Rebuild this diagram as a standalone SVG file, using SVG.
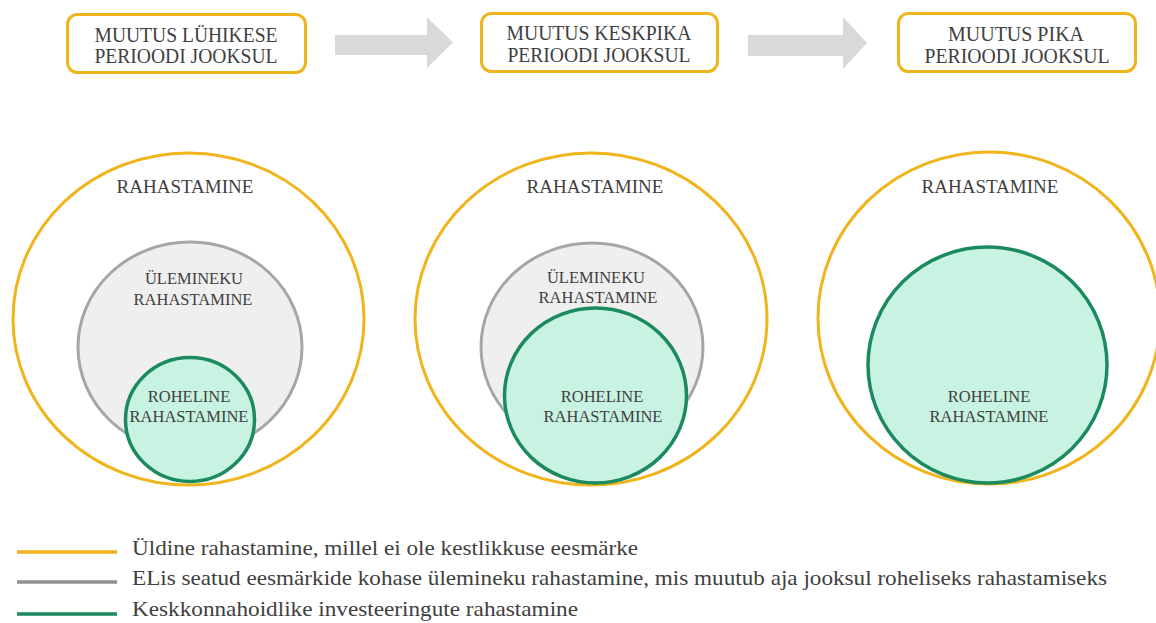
<svg xmlns="http://www.w3.org/2000/svg" width="1156" height="623" viewBox="0 0 1156 623">
<style>
text{font-family:'Liberation Serif','Times New Roman','DejaVu Serif','Noto Serif',Times,serif}
.t{fill:#404040;text-anchor:middle}
.box{fill:#fff;stroke:#F0B41C;stroke-width:3}
.arr{fill:#D9D9D9}
.outer{fill:#fff;stroke:#F0B41C;stroke-width:3}
.gray{fill:#EFEFEF;stroke:#A6A6A6;stroke-width:3}
.green{fill:#C8F3E2;stroke:#1B8A5E;stroke-width:3.5}
.lg{fill:#404040;font-size:22px}
</style>
<rect width="1156" height="623" fill="#fff"/>
<g id="box-short">
<rect class="box" x="67.5" y="14.5" width="238" height="58" rx="10"/>
<text class="t" font-family="Liberation Serif, serif" font-size="20" x="186" y="42" textLength="183" lengthAdjust="spacingAndGlyphs">MUUTUS LÜHIKESE</text>
<text class="t" font-family="Liberation Serif, serif" font-size="20" x="186" y="63" textLength="183" lengthAdjust="spacingAndGlyphs">PERIOODI JOOKSUL</text>
</g>
<g id="box-mid">
<rect class="box" x="481.5" y="13.5" width="236" height="58" rx="10"/>
<text class="t" font-family="Liberation Serif, serif" font-size="20" x="599" y="40" textLength="185" lengthAdjust="spacingAndGlyphs">MUUTUS KESKPIKA</text>
<text class="t" font-family="Liberation Serif, serif" font-size="20" x="599" y="61.5" textLength="183" lengthAdjust="spacingAndGlyphs">PERIOODI JOOKSUL</text>
</g>
<g id="box-long">
<rect class="box" x="898.5" y="13.5" width="237" height="58" rx="10"/>
<text class="t" font-family="Liberation Serif, serif" font-size="20" x="1016" y="40.5" textLength="136" lengthAdjust="spacingAndGlyphs">MUUTUS PIKA</text>
<text class="t" font-family="Liberation Serif, serif" font-size="20" x="1017" y="63" textLength="185" lengthAdjust="spacingAndGlyphs">PERIOODI JOOKSUL</text>
</g>
<g id="connectors">
<polygon class="arr" points="335,35 427,35 427,17 453,42.5 427,68 427,55 335,55"/>
<polygon class="arr" points="748,35 843,35 843,17 867,43 843,69 843,56 748,56"/>
</g>
<g id="col-short">
<ellipse class="outer" cx="188.5" cy="319" rx="175.5" ry="166"/>
<text class="t" font-size="19" x="185" y="193">RAHASTAMINE</text>
<ellipse class="gray" cx="190" cy="347" rx="112" ry="105"/>
<text class="t" font-size="16.5" x="194" y="284">ÜLEMINEKU</text>
<text class="t" font-size="16.5" x="193" y="305">RAHASTAMINE</text>
<ellipse class="green" cx="190" cy="419.5" rx="64.5" ry="62"/>
<text class="t" font-size="16.5" x="189" y="402">ROHELINE</text>
<text class="t" font-size="16.5" x="189" y="422">RAHASTAMINE</text>
</g>
<g id="col-mid">
<ellipse class="outer" cx="591" cy="319" rx="176" ry="166"/>
<text class="t" font-size="19" x="595" y="193">RAHASTAMINE</text>
<ellipse class="gray" cx="592" cy="347" rx="111" ry="104"/>
<text class="t" font-size="16.5" x="596" y="283">ÜLEMINEKU</text>
<text class="t" font-size="16.5" x="598" y="303">RAHASTAMINE</text>
<ellipse class="green" cx="595.5" cy="395.5" rx="91" ry="87.5"/>
<text class="t" font-size="16.5" x="602" y="402">ROHELINE</text>
<text class="t" font-size="16.5" x="603" y="422">RAHASTAMINE</text>
</g>
<g id="col-long">
<ellipse class="outer" cx="989" cy="318" rx="171" ry="166"/>
<text class="t" font-size="19" x="990" y="193">RAHASTAMINE</text>
<ellipse class="green" cx="987.5" cy="365" rx="119.5" ry="118"/>
<text class="t" font-size="16.5" x="989" y="402">ROHELINE</text>
<text class="t" font-size="16.5" x="989" y="422">RAHASTAMINE</text>
</g>
<g id="legend">
<line x1="17" y1="552" x2="117" y2="552" stroke="#F0B41C" stroke-width="3.5"/>
<line x1="17" y1="582" x2="117" y2="582" stroke="#909090" stroke-width="3.5"/>
<line x1="17" y1="614" x2="117" y2="614" stroke="#1B8A5E" stroke-width="3.5"/>
<text class="lg" x="132" y="555" textLength="506" lengthAdjust="spacingAndGlyphs">Üldine rahastamine, millel ei ole kestlikkuse eesmärke</text>
<text class="lg" x="132" y="585" textLength="975" lengthAdjust="spacingAndGlyphs">ELis seatud eesmärkide kohase ülemineku rahastamine, mis muutub aja jooksul roheliseks rahastamiseks</text>
<text class="lg" x="132" y="616" textLength="446" lengthAdjust="spacingAndGlyphs">Keskkonnahoidlike investeeringute rahastamine</text>
</g>
</svg>
